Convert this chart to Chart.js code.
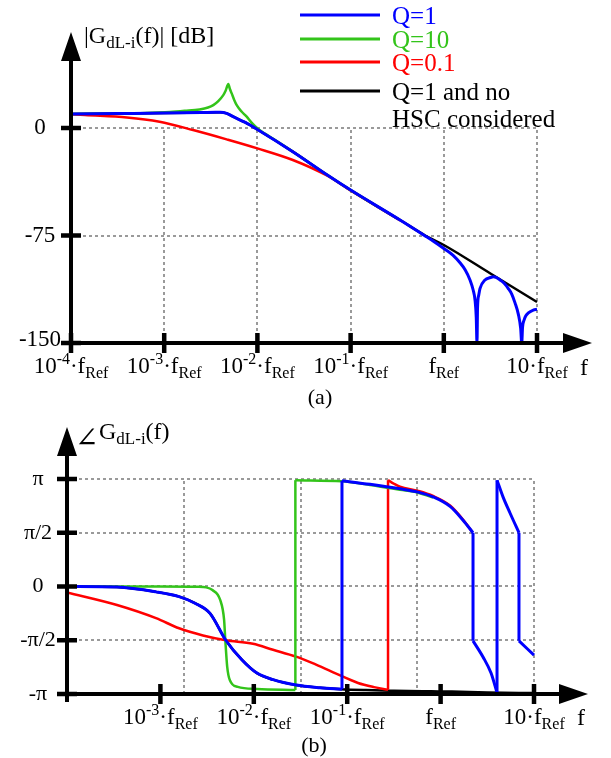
<!DOCTYPE html>
<html>
<head>
<meta charset="utf-8">
<script src="https://cdn.jsdelivr.net/npm/chart.js@4.4.0/dist/chart.umd.min.js"></script>
<style>
	html, body { margin: 0; padding: 0; background: #fff; }
	#wrap { position: relative; width: 611px; height: 758px; }
	canvas { position: absolute; left: 0; }
	#mag { top: 0; }
	#phase { top: 412px; }
</style>
</head>
<body>
<div id="wrap">
	<canvas id="mag" width="611" height="412"></canvas>
	<canvas id="phase" width="611" height="346"></canvas>
</div>
<script>
// x values are decades relative to fRef (-4 means 10^-4·fRef)
// a repeated x value in a series marks a vertical jump
const seriesNames = ['Q=1', 'Q=10', 'Q=0.1', 'Q=1 and no\nHSC considered'];
const seriesColors = ['#0000ff', '#33c41a', '#ff0000', '#000000'];
const seriesWidths = [3, 2.5, 2.5, 2.5];

// (a) magnitude |GdL-i(f)| in dB
const magQ1X = [-4, -3.5, -3, -2.6, -2.45, -2.4, -2.33, -2.26, -2.13, -2.0, -1.62, -1.25, -1.0, -0.47, -0.2, -0.1, 0, 0.1, 0.174, 0.23, 0.281, 0.315, 0.335, 0.348, 0.356, 0.362, 0.375, 0.388, 0.442, 0.5, 0.531, 0.56, 0.603, 0.65, 0.692, 0.73, 0.764, 0.8, 0.825, 0.836, 0.845, 0.861, 0.88, 0.907, 0.96, 1.0];
const magQ1 = [9.8, 10.1, 10.4, 10.8, 11.0, 11.0, 10.2, 7.9, 3.9, -1.0, -16.5, -32.8, -43.3, -64.2, -75.3, -79.5, -84, -88.8, -94, -99, -106, -113, -120, -132, -150, -125, -116.5, -112, -106, -104.3, -103.7, -104.2, -106, -108.5, -112, -116, -122, -130, -140, -150, -139, -134, -131, -129, -127, -126.5];
const magQ10X = [-4, -3.5, -3.2, -2.94, -2.78, -2.62, -2.53, -2.473, -2.42, -2.366, -2.34, -2.312, -2.295, -2.276, -2.25, -2.222, -2.17, -2.115, -2.06, -2.0, -1.92, -1.83, -1.62, -1.25, -1.0, -0.47];
const magQ10 = [9.8, 10.1, 10.5, 11.2, 12.0, 13.0, 14.3, 16.0, 18.8, 23.0, 26.2, 30.7, 27.2, 24.2, 19.8, 16.0, 11.5, 7.9, 3.6, -0.2, -3.9, -7.6, -16.5, -32.8, -43.3, -64.2];
const magQ01X = [-4, -3.85, -3.4, -3.05, -2.69, -2.33, -2.0, -1.62, -1.25, -1.0, -0.47];
const magQ01 = [9.6, 9.0, 7.4, 4.4, -1.4, -7.9, -14.2, -22.3, -33.3, -43.6, -64.4];
const magNoHscX = [-4, -3, -2.6, -2.4, -2.33, -2.26, -2.13, -2.0, -1.62, -1.25, -1.0, -0.47, -0.2, 0, 0.5, 1.0];
const magNoHsc = [9.8, 10.4, 10.8, 11.0, 10.2, 7.9, 3.9, -1.0, -16.5, -32.8, -43.3, -64.2, -75.0, -81.6, -101.5, -121.4];

// (b) phase of GdL-i(f) in degrees
const phaseQ1X = [-4, -3.465, -3.047, -2.8, -2.63, -2.469, -2.3, -2.126, -1.966, -1.794, -1.548, -1.291, -1.056, -1.056, -0.756, -0.435, -0.242, -0.081, 0.101, 0.24, 0.347, 0.347, 0.454, 0.54, 0.604, 0.604, 0.668, 0.743, 0.839, 0.839, 1.0];
const phaseQ1 = [0, -1, -9, -17, -28, -45, -90, -123, -145, -156, -165, -169.5, -172, 177, 171, 163.5, 158, 150, 134, 111, 90, -91, -118, -145, -178, 178, 150, 123, 90, -91, -115];
const phaseQ10X = [-4, -3.0, -2.6, -2.51, -2.443, -2.36, -2.318, -2.305, -2.285, -2.256, -2.172, -1.964, -1.555, -1.555, -1.056, -0.756, -0.435, -0.242, -0.081];
const phaseQ10 = [0, 0, -0.5, -1.5, -6, -22.6, -56, -90, -134, -157, -168, -171.6, -173.3, 178, 176, 170, 162, 157, 149];
const phaseQ01X = [-4, -3.465, -3.047, -2.8, -2.544, -2.3, -2.009, -1.794, -1.548, -1.377, -1.131, -0.884, -0.713, -0.563, -0.563, -0.5, -0.435, -0.242, -0.081, 0.101, 0.24, 0.336];
const phaseQ01 = [-10, -31, -53, -70, -82, -90, -96, -106, -117.5, -128, -145, -161.5, -168.5, -173, 178, 172, 167, 160, 151.5, 135.5, 112, 92];
const phaseNoHscX = [-4, -3.465, -3.047, -2.8, -2.63, -2.469, -2.3, -2.126, -1.966, -1.794, -1.548, -1.291, -1.066, -0.8, -0.5, -0.1, 0.12, 0.5, 1.0];
const phaseNoHsc = [0, -1, -9, -17, -28, -45, -90, -123, -145, -156, -165, -169.5, -172, -173.5, -174.5, -175.5, -176, -177.5, -178.5];

// ticks and grid
const magXTicks = [-4, -3, -2, -1, 0, 1];
const magYTicks = [0, -75, -150];
const magYLabels = ['0', '-75', '-150'];
const magGridX = [-3, -2, -1, 0, 1];
const magGridY = [0, -75];
const phaseXTicks = [-3, -2, -1, 0, 1];
const phaseYTicks = [180, 90, 0, -90, -180];
const phaseYLabels = ['π', 'π/2', '0', '-π/2', '-π'];
const phaseGridX = [-2.75, -1.5, -0.25, 1];
const phaseGridY = [180, 90, 0, -90];

const FONT = '"Liberation Serif", "DejaVu Serif", "Times New Roman", serif';

// frequency tick label as [text, 'sup'|'sub'|''] parts
function freqLabel(e) {
	if (e === 0) return [['f', ''], ['Ref', 'sub']];
	if (e === 1) return [['10·f', ''], ['Ref', 'sub']];
	return [['10', ''], [String(e), 'sup'], ['·f', ''], ['Ref', 'sub']];
}

// text with superscripts / subscripts
function drawRich(ctx, parts, x, y, size, align) {
	const small = Math.round(size * 0.7);
	const fontOf = (p) => (p[1] ? small : size) + 'px ' + FONT;
	let w = 0;
	parts.forEach((p) => { ctx.font = fontOf(p); w += ctx.measureText(p[0]).width; });
	let cx = align === 'center' ? x - w / 2 : (align === 'right' ? x - w : x);
	ctx.textAlign = 'left';
	ctx.textBaseline = 'alphabetic';
	parts.forEach((p) => {
		ctx.font = fontOf(p);
		const dy = p[1] === 'sup' ? -size * 0.38 : (p[1] === 'sub' ? size * 0.22 : 0);
		ctx.fillText(p[0], cx, y + dy);
		cx += ctx.measureText(p[0]).width;
	});
}

function drawGrid(chart, xs, ys, xFrom, xTo, yFrom, yTo) {
	const { ctx, scales: { x, y } } = chart;
	ctx.save();
	ctx.strokeStyle = '#7a7a7a';
	ctx.lineWidth = 1.5;
	ctx.setLineDash([3, 3]);
	ctx.beginPath();
	xs.forEach((v) => {
		const px = Math.round(x.getPixelForValue(v));
		ctx.moveTo(px, y.getPixelForValue(yFrom));
		ctx.lineTo(px, y.getPixelForValue(yTo));
	});
	ys.forEach((v) => {
		const py = Math.round(y.getPixelForValue(v));
		ctx.moveTo(x.getPixelForValue(xFrom), py);
		ctx.lineTo(x.getPixelForValue(xTo), py);
	});
	ctx.stroke();
	ctx.restore();
}

// thick axes with arrow heads and tick marks
function drawAxes(chart, xTicks, yTicks) {
	const { ctx, chartArea: a, scales: { x, y } } = chart;
	ctx.save();
	ctx.fillStyle = '#000';
	ctx.strokeStyle = '#000';
	ctx.lineWidth = 4;
	ctx.beginPath();
	ctx.moveTo(a.left, a.bottom + 8);
	ctx.lineTo(a.left, a.top + 26);
	ctx.moveTo(a.left - 2, a.bottom);
	ctx.lineTo(a.right - 26, a.bottom);
	ctx.stroke();
	ctx.beginPath();
	ctx.moveTo(a.left, a.top);
	ctx.lineTo(a.left - 10, a.top + 29);
	ctx.lineTo(a.left + 10, a.top + 29);
	ctx.closePath();
	ctx.moveTo(a.right, a.bottom);
	ctx.lineTo(a.right - 29, a.bottom - 10);
	ctx.lineTo(a.right - 29, a.bottom + 10);
	ctx.closePath();
	ctx.fill();
	ctx.lineWidth = 4.5;
	ctx.beginPath();
	xTicks.forEach((v) => {
		const px = x.getPixelForValue(v);
		ctx.moveTo(px, a.bottom - 10);
		ctx.lineTo(px, a.bottom + 10);
	});
	yTicks.forEach((v) => {
		const py = y.getPixelForValue(v);
		ctx.moveTo(a.left - 10, py);
		ctx.lineTo(a.left + 10, py);
	});
	ctx.stroke();
	ctx.restore();
}

// smooth pieces (broken at jumps) plus straight vertical jump lines
function seriesSets(i, xs, ys) {
	const main = [];
	const jumps = [];
	xs.forEach((v, k) => {
		if (k > 0 && v === xs[k - 1]) {
			main.push({ x: v, y: null });
			jumps.push({ x: v, y: ys[k - 1] }, { x: v, y: ys[k] }, { x: v, y: null });
		}
		main.push({ x: v, y: ys[k] });
	});
	const style = {
		borderColor: seriesColors[i],
		backgroundColor: seriesColors[i],
		borderWidth: seriesWidths[i],
		pointRadius: 0,
		fill: false
	};
	return [
		Object.assign({ label: seriesNames[i], data: main, cubicInterpolationMode: 'monotone' }, style),
		Object.assign({ label: seriesNames[i] + ' jump', data: jumps, tension: 0 }, style)
	];
}

function chartOptions(xMax, yMin, yMax, padding) {
	return {
		responsive: false,
		animation: false,
		devicePixelRatio: 1,
		layout: { padding: padding },
		scales: {
			x: { type: 'linear', min: -4, max: xMax, display: false },
			y: { type: 'linear', min: yMin, max: yMax, display: false }
		},
		plugins: { legend: { display: false }, tooltip: { enabled: false } }
	};
}

// (a) magnitude chart
const magDecor = {
	id: 'magDecor',
	beforeDatasetsDraw(chart) {
		drawGrid(chart, magGridX, magGridY, -4, 1, -150, 0);
	},
	afterDatasetsDraw(chart) {
		const { ctx, chartArea: a, scales: { x, y } } = chart;
		drawAxes(chart, magXTicks, magYTicks);
		ctx.save();
		ctx.fillStyle = '#000';
		magXTicks.forEach((e) => drawRich(ctx, freqLabel(e), x.getPixelForValue(e), a.bottom + 30, 23, 'center'));
		ctx.font = '23px ' + FONT;
		ctx.textAlign = 'center';
		ctx.textBaseline = 'middle';
		magYTicks.forEach((v, i) => ctx.fillText(magYLabels[i], 40, y.getPixelForValue(v) - (v === -150 ? 3 : 0)));
		ctx.font = '24px ' + FONT;
		ctx.textBaseline = 'alphabetic';
		ctx.fillText('f', a.right - 8, a.bottom + 32);
		ctx.font = '22px ' + FONT;
		ctx.fillText('(a)', 320, 404);
		drawRich(ctx, [['|G', ''], ['dL-i', 'sub'], ['(f)| [dB]', '']], 84, 43, 24, 'left');

		// legend
		const rows = [15, 39, 62, 91];
		seriesNames.forEach((name, i) => {
			ctx.strokeStyle = seriesColors[i];
			ctx.lineWidth = 3;
			ctx.beginPath();
			ctx.moveTo(300, rows[i]);
			ctx.lineTo(380, rows[i]);
			ctx.stroke();
			ctx.fillStyle = seriesColors[i];
			ctx.font = '25px ' + FONT;
			ctx.textAlign = 'left';
			name.split('\n').forEach((t, k) => ctx.fillText(t, 392, rows[i] + 9 + k * 27));
		});
		ctx.restore();
	}
};

new Chart(document.getElementById('mag'), {
	type: 'line',
	data: {
		datasets: [].concat(
			seriesSets(0, magQ1X, magQ1),
			seriesSets(1, magQ10X, magQ10),
			seriesSets(2, magQ01X, magQ01),
			seriesSets(3, magNoHscX, magNoHsc)
		)
	},
	options: chartOptions(1.59, -150, 67, { left: 71, right: 19, top: 32, bottom: 69 }),
	plugins: [magDecor]
});

// (b) phase chart
const phaseDecor = {
	id: 'phaseDecor',
	beforeDatasetsDraw(chart) {
		drawGrid(chart, phaseGridX, phaseGridY, -4, 1, -180, 180);
	},
	afterDatasetsDraw(chart) {
		const { ctx, chartArea: a, scales: { x, y } } = chart;
		drawAxes(chart, phaseXTicks, phaseYTicks);
		ctx.save();
		ctx.fillStyle = '#000';
		phaseXTicks.forEach((e) => drawRich(ctx, freqLabel(e), x.getPixelForValue(e), a.bottom + 30, 23, 'center'));
		ctx.font = '22px ' + FONT;
		ctx.textAlign = 'center';
		ctx.textBaseline = 'middle';
		phaseYTicks.forEach((v, i) => ctx.fillText(phaseYLabels[i], 38, y.getPixelForValue(v)));
		ctx.font = '24px ' + FONT;
		ctx.textBaseline = 'alphabetic';
		ctx.fillText('f', a.right - 7, a.bottom + 31);
		ctx.font = '22px ' + FONT;
		ctx.fillText('(b)', 314, 340);
		ctx.font = '28px "DejaVu Serif", ' + FONT;
		ctx.textAlign = 'left';
		ctx.fillText('∠', 75, 35);
		drawRich(ctx, [['G', ''], ['dL-i', 'sub'], ['(f)', '']], 99, 27, 24, 'left');
		ctx.restore();
	}
};

new Chart(document.getElementById('phase'), {
	type: 'line',
	data: {
		datasets: [].concat(
			seriesSets(0, phaseQ1X, phaseQ1),
			seriesSets(1, phaseQ10X, phaseQ10),
			seriesSets(2, phaseQ01X, phaseQ01),
			seriesSets(3, phaseNoHscX, phaseNoHsc)
		)
	},
	options: chartOptions(1.578, -180, 267, { left: 67, right: 23, top: 15, bottom: 64 }),
	plugins: [phaseDecor]
});
</script>
</body>
</html>
